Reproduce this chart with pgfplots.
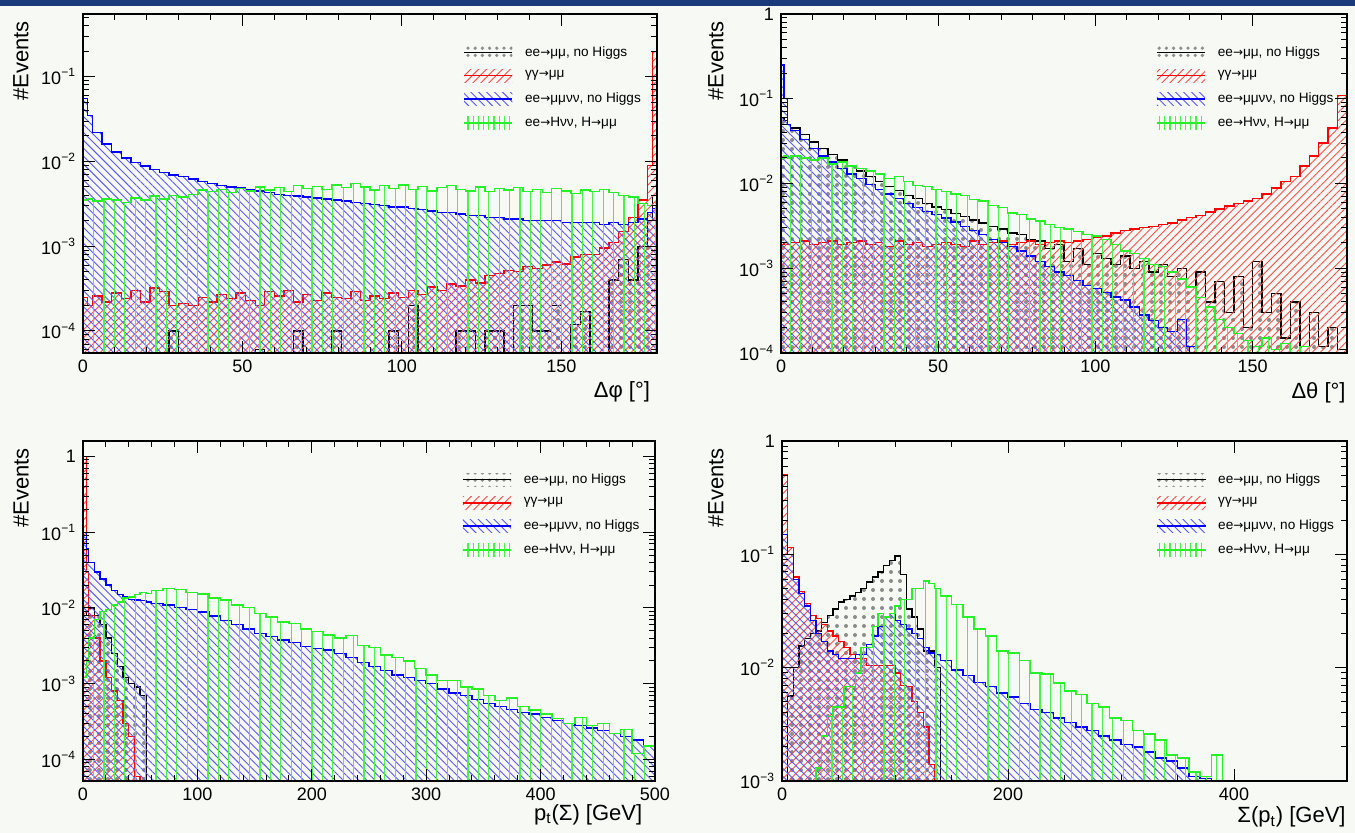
\documentclass[border=0pt]{standalone}
\usepackage{fontspec}
\setmainfont{Liberation Sans}
\newfontfamily\dv{DejaVu Sans}
\usepackage{pgfplots}
\pgfplotsset{compat=1.18}
\usepackage{pgfplotstable}
\usetikzlibrary{patterns.meta}
\definecolor{bgc}{RGB}{246,249,244}
\definecolor{band}{RGB}{26,58,122}
\definecolor{hgreen}{RGB}{40,240,40}
\newcommand\ar{{\dv\fontsize{6}{7}\selectfont →}}
\newcommand\lA{ee\ar μμ, no Higgs}
\newcommand\lB{γγ\ar μμ}
\newcommand\lC{ee\ar μμνν, no Higgs}
\newcommand\lD{ee\ar Hνν, H\ar μμ}

\pgfplotsset{
 hk/.style={const plot, mark=none, draw=black, line width=0.7pt, pattern={Dots[radius=1.0pt,distance=4.5pt]}, pattern color=black!45,
   legend image code/.code={\path[draw=none, pattern={Dots[radius=0.9pt,distance=3.6pt]}, pattern color=black!45] (0cm,-3.3pt) rectangle (0.85cm,3.3pt); \draw[black,line width=0.7pt] (0cm,0cm) -- (0.85cm,0cm); \path (0.85cm+4.5pt,0cm);}},
 hr/.style={const plot, mark=none, draw=red, line width=0.7pt, pattern={Lines[angle=45,distance=2.8pt,line width=0.45pt]}, pattern color=red!70,
   legend image code/.code={\path[draw=none, pattern={Lines[angle=45,distance=2.8pt,line width=0.45pt]}, pattern color=red!70] (0cm,-3.3pt) rectangle (0.85cm,3.3pt); \draw[red,line width=0.7pt] (0cm,0cm) -- (0.85cm,0cm); \path (0.85cm+4.5pt,0cm);}},
 hb/.style={const plot, mark=none, draw=blue, line width=0.7pt, pattern={Lines[angle=-45,distance=2.8pt,line width=0.45pt]}, pattern color=blue!65,
   legend image code/.code={\path[draw=none, pattern={Lines[angle=-45,distance=2.8pt,line width=0.45pt]}, pattern color=blue!65] (0cm,-3.3pt) rectangle (0.85cm,3.3pt); \draw[blue,line width=0.7pt] (0cm,0cm) -- (0.85cm,0cm); \path (0.85cm+4.5pt,0cm);}},
 hg/.style={const plot, mark=none, draw=hgreen, line width=0.7pt, pattern={Lines[angle=90,distance=5.2pt,line width=0.6pt]}, pattern color=hgreen!85,
   legend image code/.code={\path[draw=none, pattern={Lines[angle=90,distance=2.6pt,line width=0.6pt]}, pattern color=hgreen!85] (0cm,-3.3pt) rectangle (0.85cm,3.3pt); \draw[hgreen,line width=0.7pt] (0cm,0cm) -- (0.85cm,0cm); \path (0.85cm+4.5pt,0cm);}},
}

% Panel 1: Delta phi
\pgfplotstableread{
x k r b g
0 5e-5 2.5e-4 0.055 0.0035
1.5 5e-5 2.0e-4 0.035 0.0036
3 5e-5 2.6e-4 0.022 0.0034
6 5e-5 2.2e-4 0.016 0.0036
9 5e-5 2.8e-4 0.013 0.0035
12 5e-5 2.4e-4 0.011 0.0033
15 5e-5 3.0e-4 0.0098 0.0037
18 5e-5 2.2e-4 0.0088 0.0035
21 5e-5 3.2e-4 0.0080 0.0039
24 5e-5 2.9e-4 0.0074 0.0036
27 1e-4 2.0e-4 0.0069 0.0040
30 5e-5 2.1e-4 0.0066 0.0038
33 5e-5 2.0e-4 0.0062 0.0041
36 5e-5 2.5e-4 0.0058 0.0046
39 5e-5 2.2e-4 0.0055 0.0044
42 5e-5 2.7e-4 0.0052 0.0047
45 5e-5 2.4e-4 0.0050 0.0043
48 5e-5 2.8e-4 0.0049 0.0048
51 5e-5 2.3e-4 0.0047 0.0045
54 6e-5 2.0e-4 0.0045 0.0050
57 5e-5 2.9e-4 0.0043 0.0046
60 5e-5 2.6e-4 0.0041 0.0049
63 5e-5 3.0e-4 0.0040 0.0044
66 1e-4 2.2e-4 0.0039 0.0052
69 5e-5 2.7e-4 0.0038 0.0048
72 5e-5 2.3e-4 0.0037 0.0051
75 5e-5 2.8e-4 0.0036 0.0047
78 1e-4 2.5e-4 0.0035 0.0053
81 5e-5 2.4e-4 0.0034 0.0049
84 5e-5 2.9e-4 0.0033 0.0055
87 5e-5 2.3e-4 0.0032 0.0050
90 5e-5 2.6e-4 0.0031 0.0046
93 5e-5 2.4e-4 0.0030 0.0052
96 1e-4 2.8e-4 0.0029 0.0048
99 5e-5 2.5e-4 0.0029 0.0053
102 2e-4 3.0e-4 0.0028 0.0047
105 5e-5 2.7e-4 0.0027 0.0051
108 5e-5 3.3e-4 0.0026 0.0045
111 5e-5 3.0e-4 0.0025 0.0049
114 5e-5 3.6e-4 0.0025 0.0052
117 1e-4 3.4e-4 0.0024 0.0047
120 1e-4 4.0e-4 0.0023 0.0045
123 5e-5 3.7e-4 0.0023 0.0050
126 1e-4 4.5e-4 0.0022 0.0044
129 1e-4 4.8e-4 0.0022 0.0048
132 5e-5 5.2e-4 0.0021 0.0046
135 2e-4 5.0e-4 0.0021 0.0049
138 2e-4 5.8e-4 0.0020 0.0044
141 1e-4 5.5e-4 0.0020 0.0047
144 1e-4 6.0e-4 0.0020 0.0043
147 2e-4 6.5e-4 0.0020 0.0048
150 5e-5 6.2e-4 0.0019 0.0045
153 1.2e-4 7.5e-4 0.0019 0.0042
156 1.7e-4 8.0e-4 0.0019 0.0046
159 5e-5 8.0e-4 0.0019 0.0044
162 5e-5 9.5e-4 0.0018 0.0047
165 4e-4 1.1e-3 0.0019 0.0043
168 7e-4 1.5e-3 0.0018 0.0040
171 4e-4 2.2e-3 0.0019 0.0038
174 1e-3 3.5e-3 0.0021 0.0032
177 2e-3 9e-3 0.0025 0.0030
178.5 4e-3 0.2 0.0028 0.0030
180 4e-3 0.2 0.0028 0.0030
}\tA

% Panel 2: Delta theta
\pgfplotstableread{
x k r b g
0 0.06 0.0019 0.25 0.02
1 0.055 0.002 0.1 0.021
2 0.05 0.0019 0.05 0.02
3 0.045 0.002 0.042 0.021
6 0.038 0.0021 0.033 0.02
9 0.031 0.0019 0.026 0.019
12 0.026 0.002 0.021 0.02
15 0.022 0.0021 0.018 0.017
18 0.019 0.0019 0.015 0.018
21 0.016 0.002 0.013 0.016
24 0.014 0.0021 0.0115 0.015
27 0.012 0.0019 0.0098 0.014
30 0.0105 0.002 0.0085 0.013
33 0.0092 0.0018 0.0075 0.0115
36 0.0082 0.0021 0.0066 0.012
39 0.0072 0.0019 0.0058 0.0105
42 0.0066 0.002 0.0052 0.0095
45 0.0058 0.0018 0.0047 0.0092
48 0.0053 0.0019 0.0043 0.0085
51 0.0049 0.002 0.0039 0.008
54 0.0044 0.0019 0.0035 0.0075
57 0.0041 0.0018 0.0031 0.0072
60 0.0037 0.0021 0.0028 0.0065
63 0.0034 0.0019 0.0025 0.0062
66 0.0031 0.002 0.0022 0.0055
69 0.0029 0.0021 0.0020 0.0052
72 0.0026 0.0019 0.0018 0.0045
75 0.0025 0.002 0.0016 0.0043
78 0.0022 0.0021 0.0014 0.0038
81 0.0021 0.0019 0.0012 0.0036
84 0.0017 0.002 0.00105 0.0033
87 0.0019 0.0021 0.0009 0.003
90 0.0012 0.002 0.00082 0.0029
93 0.0017 0.0021 0.00072 0.0027
96 0.0011 0.0022 0.00063 0.0025
99 0.0015 0.0023 0.00058 0.0024
102 0.0013 0.0024 0.00052 0.0022
105 0.0011 0.0026 0.00046 0.0019
108 0.0014 0.0028 0.00042 0.0016
111 0.0010 0.0029 0.00035 0.0015
114 0.0012 0.003 0.00028 0.0013
117 0.0009 0.0031 0.00024 0.0011
120 0.0011 0.0033 0.0002 0.00105
123 0.0008 0.0034 0.00018 0.0009
126 0.0010 0.0037 0.00025 0.00075
129 0.0006 0.004 0.00012 0.0006
132 0.0009 0.0042 9e-5 0.00045
135 0.0004 0.0046 9e-5 0.00035
138 0.0007 0.005 9e-5 0.00025
141 0.0003 0.0054 9e-5 0.0002
144 0.0008 0.0058 9e-5 0.00017
147 0.0002 0.0062 9e-5 0.00014
150 0.0012 0.0066 9e-5 0.00012
153 0.0003 0.0075 9e-5 0.00015
156 0.0005 0.0088 9e-5 0.00011
159 0.00015 0.0105 9e-5 0.00013
162 0.0004 0.012 9e-5 9e-5
165 0.0001 0.016 9e-5 0.00012
168 0.0003 0.021 9e-5 9e-5
171 0.00012 0.03 9e-5 9e-5
174 0.0002 0.045 9e-5 9e-5
177 0.00011 0.11 9e-5 9e-5
180 0.00011 0.11 9e-5 9e-5
}\tB

% Panel 3: pt(Sigma)
\pgfplotstableread{
x k r b g
0 0.008 1.0 0.1 0.0012
3 0.009 0.03 0.06 0.002
5 0.01 0.008 0.04 0.004
10 0.008 0.004 0.03 0.007
15 0.006 0.002 0.024 0.009
20 0.004 0.0012 0.02 0.0095
25 0.0025 0.0008 0.017 0.011
30 0.0017 0.0006 0.015 0.012
35 0.0012 0.0003 0.014 0.0135
40 0.001 0.0002 0.013 0.014
45 0.0009 6e-5 0.0128 0.015
50 0.0007 5.2e-5 0.0125 0.016
55 5.2e-5 5.2e-5 0.012 0.0155
60 5.2e-5 5.2e-5 0.0115 0.017
70 5.2e-5 5.2e-5 0.011 0.018
80 5.2e-5 5.2e-5 0.0102 0.0175
90 5.2e-5 5.2e-5 0.0095 0.016
100 5.2e-5 5.2e-5 0.0088 0.0152
110 5.2e-5 5.2e-5 0.0078 0.0135
120 5.2e-5 5.2e-5 0.0068 0.0127
130 5.2e-5 5.2e-5 0.006 0.011
140 5.2e-5 5.2e-5 0.0053 0.0102
150 5.2e-5 5.2e-5 0.0046 0.0085
160 5.2e-5 5.2e-5 0.0042 0.0076
170 5.2e-5 5.2e-5 0.0038 0.0065
180 5.2e-5 5.2e-5 0.0035 0.0062
190 5.2e-5 5.2e-5 0.0031 0.0053
200 5.2e-5 5.2e-5 0.0029 0.0049
210 5.2e-5 5.2e-5 0.0028 0.0044
220 5.2e-5 5.2e-5 0.0025 0.0040
230 5.2e-5 5.2e-5 0.0022 0.0043
240 5.2e-5 5.2e-5 0.0019 0.0032
250 5.2e-5 5.2e-5 0.0017 0.0030
260 5.2e-5 5.2e-5 0.0015 0.0024
270 5.2e-5 5.2e-5 0.0013 0.0022
280 5.2e-5 5.2e-5 0.0012 0.0020
290 5.2e-5 5.2e-5 0.0011 0.0016
300 5.2e-5 5.2e-5 0.0010 0.0013
310 5.2e-5 5.2e-5 0.00085 0.0011
320 5.2e-5 5.2e-5 0.00075 0.0011
330 5.2e-5 5.2e-5 0.0007 0.0009
340 5.2e-5 5.2e-5 0.00062 0.00085
350 5.2e-5 5.2e-5 0.00055 0.0007
360 5.2e-5 5.2e-5 0.0005 0.0006
370 5.2e-5 5.2e-5 0.00046 0.00065
380 5.2e-5 5.2e-5 0.00042 0.0005
390 5.2e-5 5.2e-5 0.0004 0.00045
400 5.2e-5 5.2e-5 0.00036 0.0004
410 5.2e-5 5.2e-5 0.00033 0.00035
420 5.2e-5 5.2e-5 0.0003 0.0003
430 5.2e-5 5.2e-5 0.00028 0.00036
440 5.2e-5 5.2e-5 0.00026 0.00028
450 5.2e-5 5.2e-5 0.00024 0.0003
460 5.2e-5 5.2e-5 0.00022 0.00022
470 5.2e-5 5.2e-5 0.0002 0.00025
480 5.2e-5 5.2e-5 0.00018 0.00012
490 5.2e-5 5.2e-5 0.00015 0.00015
500 5.2e-5 5.2e-5 0.00015 0.00015
}\tC

% Panel 4: Sigma(pt)
\pgfplotstableread{
x k r b g
0 0.001 0.5 0.15 0.001
5 0.0056 0.115 0.1 0.001
10 0.01 0.063 0.06 0.001
15 0.0155 0.047 0.045 0.001
20 0.018 0.037 0.035 0.001
25 0.02 0.029 0.026 0.001
30 0.021 0.027 0.02 0.0013
35 0.025 0.024 0.017 0.0025
40 0.029 0.021 0.014 0.0037
45 0.033 0.019 0.013 0.0045
50 0.038 0.017 0.012 0.0045
55 0.04 0.015 0.012 0.0068
60 0.043 0.013 0.012 0.0068
65 0.046 0.012 0.013 0.009
70 0.05 0.012 0.013 0.015
75 0.057 0.0105 0.016 0.015
80 0.063 0.0105 0.019 0.023
85 0.07 0.0105 0.023 0.03
90 0.08 0.0105 0.028 0.028
95 0.088 0.0105 0.03 0.03
100 0.097 0.009 0.026 0.035
105 0.066 0.007 0.024 0.04
110 0.033 0.0068 0.022 0.04
115 0.028 0.005 0.02 0.05
120 0.022 0.004 0.018 0.05
125 0.014 0.003 0.015 0.058
130 0.014 0.0014 0.0135 0.055
135 0.01 0.001 0.013 0.05
140 0.001 0.001 0.0115 0.043
150 0.001 0.001 0.0095 0.036
160 0.001 0.001 0.0085 0.028
170 0.001 0.001 0.0074 0.022
180 0.001 0.001 0.0068 0.019
190 0.001 0.001 0.006 0.014
200 0.001 0.001 0.0055 0.0135
210 0.001 0.001 0.0048 0.0115
220 0.001 0.001 0.0043 0.009
230 0.001 0.001 0.004 0.0088
240 0.001 0.001 0.0036 0.0073
250 0.001 0.001 0.0033 0.0062
260 0.001 0.001 0.003 0.0058
270 0.001 0.001 0.0028 0.0048
280 0.001 0.001 0.0025 0.0045
290 0.001 0.001 0.0023 0.0036
300 0.001 0.001 0.0021 0.0034
310 0.001 0.001 0.002 0.0028
320 0.001 0.001 0.0018 0.0026
330 0.001 0.001 0.0016 0.0023
340 0.001 0.001 0.0015 0.0017
350 0.001 0.001 0.0013 0.0016
360 0.001 0.001 0.0011 0.0012
370 0.001 0.001 0.00105 0.0011
380 0.001 0.001 0.001 0.0017
390 0.001 0.001 0.001 0.001
500 0.001 0.001 0.001 0.001
}\tD

\begin{document}
\begin{tikzpicture}
\path[use as bounding box] (0,0) rectangle (677.5pt,416.5pt);
\clip (0,0) rectangle (677.5pt,416.5pt);
\fill[bgc] (0,0) rectangle (677.5pt,416.5pt);
\fill[band] (0,413.5pt) rectangle (677.5pt,416.5pt);

% ---------- Panel 1
\begin{axis}[ymode=log, scale only axis, anchor=south west, at={(41.5pt,240pt)}, width=287pt, height=169.5pt,
  axis on top, tick align=inside, major tick length=6pt, minor tick length=3pt,
  tick style={black, line width=0.5pt}, axis line style={line width=0.6pt},
  ticklabel style={font=\fontsize{9}{10}\selectfont},
  xlabel style={font=\fontsize{11}{12}\selectfont, anchor=east, at={(axis description cs:1,-0.115)}},
  ylabel style={font=\fontsize{11}{12}\selectfont, anchor=east, at={(axis description cs:-0.108,1)}},
  legend cell align=left,
  legend style={at={(0.662,0.915)}, anchor=north west, draw=none, fill=none, inner sep=0pt, row sep=2.8pt,
     font=\fontsize{6.8}{8}\selectfont, nodes={inner sep=1.5pt}},
  xmin=0, xmax=180, ymin=5.5e-5, ymax=0.55,
  xtick={0,50,100,150}, xticklabels={0,50,100,150}, minor x tick num=4,
  ytick={1e-4,1e-3,1e-2,1e-1},
  yticklabels={10\textsuperscript{−4},10\textsuperscript{−3},10\textsuperscript{−2},10\textsuperscript{−1}},
  minor ytick={6e-5,7e-5,8e-5,9e-5,2e-4,3e-4,4e-4,5e-4,6e-4,7e-4,8e-4,9e-4,2e-3,3e-3,4e-3,5e-3,6e-3,7e-3,8e-3,9e-3,2e-2,3e-2,4e-2,5e-2,6e-2,7e-2,8e-2,9e-2,2e-1,3e-1,4e-1,5e-1},
  xlabel={Δφ [°]}, ylabel={\#Events}]
\addplot[hk] table[x=x,y=k]{\tA} -- (axis cs:180,5e-5) -- (axis cs:0,5e-5) -- cycle;
\addlegendentry{\lA}
\addplot[hr] table[x=x,y=r]{\tA} -- (axis cs:180,5e-5) -- (axis cs:0,5e-5) -- cycle;
\addlegendentry{\lB}
\addplot[hb] table[x=x,y=b]{\tA} -- (axis cs:180,5e-5) -- (axis cs:0,5e-5) -- cycle;
\addlegendentry{\lC}
\addplot[hg] table[x=x,y=g]{\tA} -- (axis cs:180,5e-5) -- (axis cs:0,5e-5) -- cycle;
\addlegendentry{\lD}
\end{axis}

% ---------- Panel 2
\begin{axis}[ymode=log, scale only axis, anchor=south west, at={(390.5pt,240pt)}, width=283pt, height=169.5pt,
  axis on top, tick align=inside, major tick length=6pt, minor tick length=3pt,
  tick style={black, line width=0.5pt}, axis line style={line width=0.6pt},
  ticklabel style={font=\fontsize{9}{10}\selectfont},
  xlabel style={font=\fontsize{11}{12}\selectfont, anchor=east, at={(axis description cs:1.01,-0.118)}},
  ylabel style={font=\fontsize{11}{12}\selectfont, anchor=east, at={(axis description cs:-0.115,1)}},
  legend cell align=left,
  legend style={at={(0.662,0.915)}, anchor=north west, draw=none, fill=none, inner sep=0pt, row sep=2.8pt,
     font=\fontsize{6.8}{8}\selectfont, nodes={inner sep=1.5pt}},
  xmin=0, xmax=180, ymin=1e-4, ymax=1,
  xtick={0,50,100,150}, xticklabels={0,50,100,150}, minor x tick num=4,
  ytick={1e-4,1e-3,1e-2,1e-1,1},
  yticklabels={10\textsuperscript{−4},10\textsuperscript{−3},10\textsuperscript{−2},10\textsuperscript{−1},1},
  minor ytick={2e-4,3e-4,4e-4,5e-4,6e-4,7e-4,8e-4,9e-4,2e-3,3e-3,4e-3,5e-3,6e-3,7e-3,8e-3,9e-3,2e-2,3e-2,4e-2,5e-2,6e-2,7e-2,8e-2,9e-2,2e-1,3e-1,4e-1,5e-1,6e-1,7e-1,8e-1,9e-1},
  xlabel={Δθ [°]}, ylabel={\#Events}]
\addplot[hk] table[x=x,y=k]{\tB} -- (axis cs:180,9e-5) -- (axis cs:0,9e-5) -- cycle;
\addlegendentry{\lA}
\addplot[hr] table[x=x,y=r]{\tB} -- (axis cs:180,9e-5) -- (axis cs:0,9e-5) -- cycle;
\addlegendentry{\lB}
\addplot[hb] table[x=x,y=b]{\tB} -- (axis cs:180,9e-5) -- (axis cs:0,9e-5) -- cycle;
\addlegendentry{\lC}
\addplot[hg] table[x=x,y=g]{\tB} -- (axis cs:180,9e-5) -- (axis cs:0,9e-5) -- cycle;
\addlegendentry{\lD}
\end{axis}

% ---------- Panel 3
\begin{axis}[ymode=log, scale only axis, anchor=south west, at={(41.5pt,26pt)}, width=286pt, height=170pt,
  axis on top, tick align=inside, major tick length=6pt, minor tick length=3pt,
  tick style={black, line width=0.5pt}, axis line style={line width=0.6pt},
  ticklabel style={font=\fontsize{9}{10}\selectfont},
  xlabel style={font=\fontsize{11}{12}\selectfont, anchor=east, at={(axis description cs:0.99,-0.1)}},
  ylabel style={font=\fontsize{11}{12}\selectfont, anchor=east, at={(axis description cs:-0.108,1)}},
  legend cell align=left,
  legend style={at={(0.662,0.915)}, anchor=north west, draw=none, fill=none, inner sep=0pt, row sep=2.8pt,
     font=\fontsize{6.8}{8}\selectfont, nodes={inner sep=1.5pt}},
  xmin=0, xmax=500, ymin=5.2e-5, ymax=1.6,
  xtick={0,100,200,300,400,500}, xticklabels={0,100,200,300,400,500}, minor x tick num=4,
  ytick={1e-4,1e-3,1e-2,1e-1,1},
  yticklabels={10\textsuperscript{−4},10\textsuperscript{−3},10\textsuperscript{−2},10\textsuperscript{−1},1},
  minor ytick={6e-5,7e-5,8e-5,9e-5,2e-4,3e-4,4e-4,5e-4,6e-4,7e-4,8e-4,9e-4,2e-3,3e-3,4e-3,5e-3,6e-3,7e-3,8e-3,9e-3,2e-2,3e-2,4e-2,5e-2,6e-2,7e-2,8e-2,9e-2,2e-1,3e-1,4e-1,5e-1,6e-1,7e-1,8e-1,9e-1},
  xlabel={p\textsubscript{t}(Σ) [GeV]}, ylabel={\#Events}]
\addplot[hk] table[x=x,y=k]{\tC} -- (axis cs:500,5.2e-5) -- (axis cs:0,5.2e-5) -- cycle;
\addlegendentry{\lA}
\addplot[hr] table[x=x,y=r]{\tC} -- (axis cs:500,5.2e-5) -- (axis cs:0,5.2e-5) -- cycle;
\addlegendentry{\lB}
\addplot[hb] table[x=x,y=b]{\tC} -- (axis cs:500,5.2e-5) -- (axis cs:0,5.2e-5) -- cycle;
\addlegendentry{\lC}
\addplot[hg] table[x=x,y=g]{\tC} -- (axis cs:500,5.2e-5) -- (axis cs:0,5.2e-5) -- cycle;
\addlegendentry{\lD}
\end{axis}

% ---------- Panel 4
\begin{axis}[ymode=log, scale only axis, anchor=south west, at={(391pt,26pt)}, width=282.5pt, height=170pt,
  axis on top, tick align=inside, major tick length=6pt, minor tick length=3pt,
  tick style={black, line width=0.5pt}, axis line style={line width=0.6pt},
  ticklabel style={font=\fontsize{9}{10}\selectfont},
  xlabel style={font=\fontsize{11}{12}\selectfont, anchor=east, at={(axis description cs:1.01,-0.106)}},
  ylabel style={font=\fontsize{11}{12}\selectfont, anchor=east, at={(axis description cs:-0.117,1)}},
  legend cell align=left,
  legend style={at={(0.662,0.915)}, anchor=north west, draw=none, fill=none, inner sep=0pt, row sep=2.8pt,
     font=\fontsize{6.8}{8}\selectfont, nodes={inner sep=1.5pt}},
  xmin=0, xmax=500, ymin=1e-3, ymax=1,
  xtick={0,200,400}, xticklabels={0,200,400}, minor x tick num=3,
  ytick={1e-3,1e-2,1e-1,1},
  yticklabels={10\textsuperscript{−3},10\textsuperscript{−2},10\textsuperscript{−1},1},
  minor ytick={2e-3,3e-3,4e-3,5e-3,6e-3,7e-3,8e-3,9e-3,2e-2,3e-2,4e-2,5e-2,6e-2,7e-2,8e-2,9e-2,2e-1,3e-1,4e-1,5e-1,6e-1,7e-1,8e-1,9e-1},
  xlabel={Σ(p\textsubscript{t}) [GeV]}, ylabel={\#Events}]
\addplot[hk] table[x=x,y=k]{\tD} -- (axis cs:500,1e-3) -- (axis cs:0,1e-3) -- cycle;
\addlegendentry{\lA}
\addplot[hr] table[x=x,y=r]{\tD} -- (axis cs:500,1e-3) -- (axis cs:0,1e-3) -- cycle;
\addlegendentry{\lB}
\addplot[hb] table[x=x,y=b]{\tD} -- (axis cs:500,1e-3) -- (axis cs:0,1e-3) -- cycle;
\addlegendentry{\lC}
\addplot[hg] table[x=x,y=g]{\tD} -- (axis cs:500,1e-3) -- (axis cs:0,1e-3) -- cycle;
\addlegendentry{\lD}
\end{axis}
\end{tikzpicture}
\end{document}
